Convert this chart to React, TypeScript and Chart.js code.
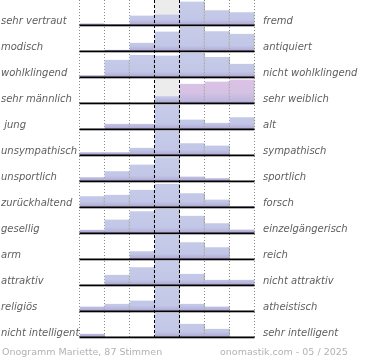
import React, { useEffect, useRef } from 'react';
import { Chart, registerables } from 'chart.js';

Chart.register(...registerables);

// seven answer columns of the semantic differential
const columns = ['1', '2', '3', '4', '5', '6', '7'];

const leftLabels = [
  'sehr vertraut', 'modisch', 'wohlklingend', 'sehr männlich', ' jung', 'unsympathisch',
  'unsportlich', 'zurückhaltend', 'gesellig', 'arm', 'attraktiv', 'religiös', 'nicht intelligent',
];
const rightLabels = [
  'fremd', 'antiquiert', 'nicht wohlklingend', 'sehr weiblich', 'alt', 'sympathisch',
  'sportlich', 'forsch', 'einzelgängerisch', 'reich', 'nicht attraktiv', 'atheistisch', 'sehr intelligent',
];

// bar heights per row (row scale 0..26)
const vertrautFremd = [2.6, 1.8, 10.5, 11.5, 24.5, 15.8, 13.8];
const modischAntiquiert = [0, 2.2, 9.2, 20.5, 25, 20.8, 18.2];
const wohlklingend = [2.8, 18.2, 23, 22.5, 25, 21, 14.2];
const maennlichWeiblich = [0, 0, 0.8, 7.8, 20.2, 22.5, 24.5];
const jungAlt = [1.2, 6.2, 6.2, 25, 10.5, 7.2, 12.8];
const sympathisch = [3.8, 3.8, 8.2, 25, 12.8, 10.5, 0.3];
const sportlich = [4.8, 10.8, 17.5, 24.8, 5.5, 3.8, 0];
const zurueckhaltendForsch = [11.8, 13.2, 18.2, 24.2, 14.8, 8.5, 1.8];
const geselligEinzelgaenger = [4.2, 14.5, 22.8, 25, 18.2, 10.8, 4.5];
const armReich = [0, 0, 8.8, 25, 17.8, 12.8, 0];
const attraktiv = [0, 11.2, 18.8, 25, 12.2, 6.2, 6.2];
const religioesAtheistisch = [5.5, 8.2, 11.5, 25, 8.2, 5.5, 0];
const intelligent = [4.2, 0, 1.2, 25, 14.2, 9.2, 1.2];

const rowValues = [
  vertrautFremd, modischAntiquiert, wohlklingend, maennlichWeiblich, jungAlt, sympathisch,
  sportlich, zurueckhaltendForsch, geselligEinzelgaenger, armReich, attraktiv,
  religioesAtheistisch, intelligent,
];

// grey backdrop of the middle column in these rows
const greyRows = [0, 3];
const greyColumn = 3;
const greyValue = 26;
// pink-tinted cells (row 4, right side)
const pinkRow = 3;
const pinkColumns = [4, 5, 6];

const footerLeft = 'Onogramm Mariette, 87 Stimmen';
const footerRight = 'onomastik.com - 05 / 2025';

const ROW_MAX = 26;
const FONT = '"DejaVu Sans", Verdana, sans-serif';

function makeGradient(chart: any, rowIdx: number, pink: boolean) {
  const scale = chart.scales['r' + rowIdx];
  if (!scale || !chart.chartArea) return pink ? '#d8c2e4' : '#c4c9e8';
  const g = chart.ctx.createLinearGradient(0, scale.top, 0, scale.bottom);
  if (pink) {
    g.addColorStop(0, '#dcc2e6');
    g.addColorStop(0.55, '#d6c2e4');
    g.addColorStop(0.88, '#bdb7dd');
    g.addColorStop(1, '#a596c8');
  } else {
    g.addColorStop(0, '#c7ccea');
    g.addColorStop(0.75, '#c2c7e7');
    g.addColorStop(0.9, '#b6b1da');
    g.addColorStop(1, '#a496c8');
  }
  return g;
}

const overlayPlugin = {
  id: 'overlay',
  beforeDatasetsDraw(chart: any) {
    const { ctx, chartArea } = chart;
    const x = chart.scales.x;
    const w = x.getPixelForValue(1) - x.getPixelForValue(0);
    ctx.save();
    ctx.strokeStyle = '#8a8a8a';
    ctx.lineWidth = 1;
    ctx.setLineDash([1, 2]);
    for (let k = 0; k <= columns.length; k++) {
      if (k === 3 || k === 4) continue;
      const px = x.getPixelForValue(k) - w / 2;
      ctx.beginPath();
      ctx.moveTo(px, 0);
      ctx.lineTo(px, chartArea.bottom + 1);
      ctx.stroke();
    }
    ctx.restore();
  },
  afterDatasetsDraw(chart: any) {
    const { ctx, chartArea } = chart;
    const x = chart.scales.x;
    const w = x.getPixelForValue(1) - x.getPixelForValue(0);
    ctx.save();
    // baselines
    ctx.fillStyle = '#000';
    rowValues.forEach((_, i) => {
      const s = chart.scales['r' + i];
      ctx.fillRect(chartArea.left, s.bottom - 1.5, chartArea.right - chartArea.left, 1.8);
    });
    // dashed middle lines
    ctx.strokeStyle = '#000';
    ctx.lineWidth = 1;
    ctx.setLineDash([3, 2]);
    for (const k of [3, 4]) {
      const px = x.getPixelForValue(k) - w / 2;
      ctx.beginPath();
      ctx.moveTo(px, 0);
      ctx.lineTo(px, chartArea.bottom + 1);
      ctx.stroke();
    }
    ctx.restore();
  },
  afterDraw(chart: any) {
    const { ctx } = chart;
    ctx.save();
    ctx.font = 'italic 10px ' + FONT;
    ctx.fillStyle = '#5e5e5e';
    ctx.textBaseline = 'alphabetic';
    rowValues.forEach((_, i) => {
      const s = chart.scales['r' + i];
      const y = s.bottom - 2.5;
      ctx.textAlign = 'left';
      ctx.fillText(leftLabels[i], 1, y);
      ctx.fillText(rightLabels[i], 263, y);
    });
    ctx.font = '9.5px ' + FONT;
    ctx.fillStyle = '#b2b2b2';
    ctx.fillText(footerLeft, 2, 355);
    ctx.fillText(footerRight, 220, 355);
    ctx.restore();
  },
};

export default function App() {
  const ref = useRef<HTMLCanvasElement | null>(null);

  useEffect(() => {
    if (!ref.current) return;
    const datasets: any[] = [];
    greyRows.forEach((r) => {
      datasets.push({
        data: columns.map((_, j) => (j === greyColumn ? greyValue : null)),
        yAxisID: 'r' + r,
        xAxisID: 'x',
        grouped: false,
        categoryPercentage: 1,
        barPercentage: 1,
        backgroundColor: '#ececec',
        borderWidth: 0,
        order: 2,
      });
    });
    rowValues.forEach((vals, i) => {
      datasets.push({
        data: vals,
        yAxisID: 'r' + i,
        xAxisID: 'x',
        grouped: false,
        categoryPercentage: 1,
        barPercentage: 1,
        backgroundColor: (c: any) =>
          makeGradient(c.chart, i, i === pinkRow && pinkColumns.includes(c.dataIndex)),
        borderColor: '#9a9a9a',
        borderWidth: { top: 0, right: 1, bottom: 0, left: 0 },
        borderSkipped: false,
        order: 1,
      });
    });

    const scales: any = {
      x: {
        type: 'category',
        labels: columns,
        display: false,
        offset: true,
        grid: { display: false },
      },
    };
    rowValues.forEach((_, i) => {
      scales['r' + i] = {
        type: 'linear',
        axis: 'y',
        position: 'right',
        stack: 'rows',
        stackWeight: 1,
        min: 0,
        max: ROW_MAX,
        display: true,
        ticks: { display: false },
        grid: { display: false, drawTicks: false },
        border: { display: false },
      };
    });

    const chart = new Chart(ref.current, {
      type: 'bar',
      data: { labels: columns, datasets },
      options: {
        animation: false,
        responsive: false,
        devicePixelRatio: 1,
        layout: { padding: { left: 79.5, right: 115.5, top: 0, bottom: 22 } },
        plugins: { legend: { display: false }, tooltip: { enabled: false } },
        scales,
      },
      plugins: [overlayPlugin],
    } as any);
    return () => chart.destroy();
  }, []);

  return (
    <div style={{ position: 'absolute', left: 0, top: 0, width: 370, height: 360, background: '#fff' }}>
      <canvas ref={ref} width={370} height={360} style={{ width: 370, height: 360, display: 'block' }} />
    </div>
  );
}
